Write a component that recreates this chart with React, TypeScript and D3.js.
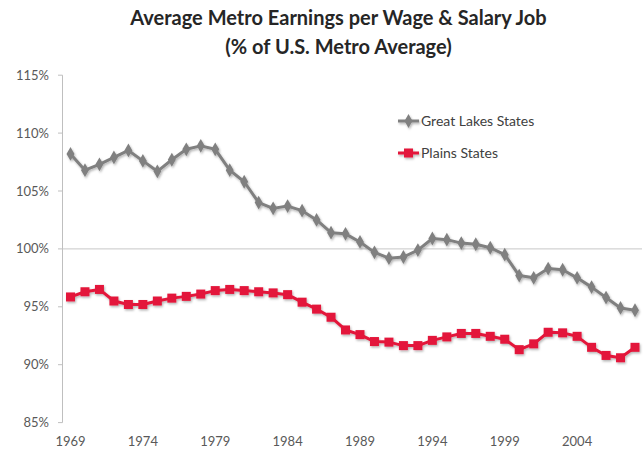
import React from "react";
import * as d3 from "d3";

const years: number[] = d3.range(1969, 2009);
const greatLakes: number[] = [
  108.2, 106.8, 107.3, 107.9, 108.5, 107.6, 106.7, 107.7, 108.6, 108.9,
  108.6, 106.8, 105.8, 104.0, 103.5, 103.7, 103.3, 102.5, 101.4, 101.3,
  100.6, 99.7, 99.2, 99.3, 99.9, 100.9, 100.8, 100.5, 100.4, 100.1,
  99.5, 97.7, 97.5, 98.3, 98.2, 97.5, 96.7, 95.8, 94.9, 94.7,
];
const plains: number[] = [
  95.85, 96.3, 96.5, 95.5, 95.2, 95.2, 95.5, 95.75, 95.9, 96.1,
  96.4, 96.5, 96.4, 96.3, 96.2, 96.05, 95.4, 94.8, 94.1, 93.0,
  92.6, 92.0, 91.95, 91.65, 91.65, 92.1, 92.4, 92.7, 92.7, 92.45,
  92.2, 91.3, 91.8, 92.8, 92.75, 92.45, 91.5, 90.8, 90.6, 91.5,
];
const yTicks: number[] = [85, 90, 95, 100, 105, 110, 115];
const xTickYears: number[] = [1969, 1974, 1979, 1984, 1989, 1994, 1999, 2004];
const titleLines: string[] = [
  "Average Metro Earnings per Wage & Salary Job",
  "(% of U.S. Metro Average)",
];
const seriesNames: string[] = ["Great Lakes States", "Plains States"];

const W = 643;
const H = 456;
const FONT = "Lato, 'Open Sans', sans-serif";

export default function App() {
  const x = d3.scaleLinear().domain([1969, 2008]).range([70.5, 635]);
  const y = d3.scaleLinear().domain([85, 115]).range([422.6, 75.2]);
  const line = d3
    .line<number>()
    .x((_, i) => x(years[i]))
    .y((d) => y(d));

  const gray = "#808080";
  const red = "#e3173a";
  const axisColor = "#bfbfbf";
  const textColor = "#595959";

  return (
    <svg
      width={W}
      height={H}
      style={{ position: "absolute", left: 0, top: 0, background: "#fff" }}
      fontFamily={FONT}
    >
      <defs>
        <filter id="shadow" x="-10%" y="-10%" width="120%" height="130%">
          <feDropShadow dx="1" dy="1.5" stdDeviation="1" floodColor="#000" floodOpacity="0.3" />
        </filter>
      </defs>
      <rect width={W} height={H} fill="#fff" />
      {/* Title */}
      {titleLines.map((t, i) => (
        <text
          key={t}
          x={W / 2 + 17}
          y={25 + i * 29}
          textAnchor="middle"
          fontSize={20}
          fontWeight="bold"
          fill="#262626"
        >
          {t}
        </text>
      ))}
      {/* Y axis */}
      <line x1={62.5} x2={62.5} y1={y(115)} y2={y(85)} stroke={axisColor} strokeWidth={1} />
      {yTicks.map((t) => (
        <g key={t}>
          <line x1={58} x2={62.5} y1={y(t)} y2={y(t)} stroke={axisColor} />
          <text
            x={49}
            y={y(t)}
            dy="0.35em"
            textAnchor="end"
            fontSize={13}
            fill={textColor}
          >
            {t}%
          </text>
        </g>
      ))}
      {/* Horizontal axis line at 100% */}
      <line x1={62.5} x2={642} y1={y(100)} y2={y(100)} stroke="#c8c8c8" strokeWidth={1} />
      {/* X labels */}
      {xTickYears.map((yr) => (
        <text key={yr} x={x(yr)} y={446} textAnchor="middle" fontSize={13} fill={textColor}>
          {yr}
        </text>
      ))}
      {/* Series */}
      <g filter="url(#shadow)">
        <path d={line(greatLakes) || ""} fill="none" stroke={gray} strokeWidth={3} strokeLinejoin="round" />
        {greatLakes.map((v, i) => (
          <path
            key={i}
            d={d3.symbol(d3.symbolDiamond, 55)() || ""}
            transform={`translate(${x(years[i])},${y(v)})`}
            fill={gray}
          />
        ))}
        <path d={line(plains) || ""} fill="none" stroke={red} strokeWidth={3} strokeLinejoin="round" />
        {plains.map((v, i) => (
          <rect key={i} x={x(years[i]) - 4.5} y={y(v) - 4.5} width={9} height={9} fill={red} />
        ))}
      </g>
      {/* Legend */}
      <g filter="url(#shadow)">
        <line x1={398} x2={419} y1={121} y2={121} stroke={gray} strokeWidth={3} />
        <path d={d3.symbol(d3.symbolDiamond, 55)() || ""} transform="translate(408.5,121)" fill={gray} />
        <line x1={398} x2={419} y1={153} y2={153} stroke={red} strokeWidth={3} />
        <rect x={404} y={148.5} width={9} height={9} fill={red} />
      </g>
      {seriesNames.map((n, i) => (
        <text key={n} x={421} y={121 + i * 32} dy="0.35em" fontSize={14} fill="#404040">
          {n}
        </text>
      ))}
    </svg>
  );
}
